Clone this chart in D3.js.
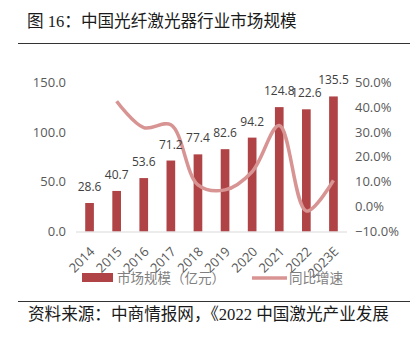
<!DOCTYPE html>
<html><head><meta charset="utf-8">
<script src="https://cdn.jsdelivr.net/npm/d3@7/dist/d3.min.js"></script>
<style>
html,body{margin:0;padding:0;background:#fff;}
svg{display:block;}
</style></head>
<body>
<script>
const years = ["2014","2015","2016","2017","2018","2019","2020","2021","2022","2023E"];
const marketSize = [28.6,40.7,53.6,71.2,77.4,82.6,94.2,124.8,122.6,135.5];
const growthYears = ["2015","2016","2017","2018","2019","2020","2021","2022","2023E"];
const growthRate = [42.3,31.7,32.8,8.7,6.7,14.0,32.5,-1.8,10.5];
const leftTicks = [0,50,100,150];
const rightTicks = [-10,0,10,20,30,40,50];
const titleText = "图 16：中国光纤激光器行业市场规模";
const sourceText = "资料来源：中商情报网，《2022 中国激光产业发展";
const legendBar = "市场规模（亿元）";
const legendLine = "同比增速";

const W = 417, H = 338;
const svg = d3.select("body").append("svg").attr("width", W).attr("height", H);
const numFont = "'Open Sans', 'Noto Sans', sans-serif";
const cjkFont = "'Liberation Serif', 'Noto Sans CJK SC', serif";

// title + rules
svg.append("text").attr("x", 27).attr("y", 27).attr("font-family", cjkFont)
  .attr("font-size", 16.6).attr("fill", "#1a1a1a").text(titleText);
svg.append("line").attr("x1", 18).attr("x2", 410).attr("y1", 43.5).attr("y2", 43.5)
  .attr("stroke", "#333").attr("stroke-width", 1);
svg.append("line").attr("x1", 18).attr("x2", 410).attr("y1", 301.5).attr("y2", 301.5)
  .attr("stroke", "#333").attr("stroke-width", 1);
svg.append("text").attr("x", 28).attr("y", 320).attr("font-family", cjkFont)
  .attr("font-size", 16.6).attr("fill", "#1a1a1a").text(sourceText);

const x = d3.scaleBand().domain(years).range([76, 347]).paddingInner(0.68).paddingOuter(0.34);
const yL = d3.scaleLinear().domain([0, 150]).range([231.5, 82]);
const yR = d3.scaleLinear().domain([-10, 50]).range([231.5, 82]);

// left axis labels
const axL = svg.append("g").attr("transform", "translate(70,0)")
  .call(d3.axisLeft(yL).tickValues(leftTicks).tickFormat(d3.format(".1f")).tickSize(0).tickPadding(4));
axL.select(".domain").remove();
axL.selectAll("text").attr("font-family", numFont).attr("font-size", 13).attr("fill", "#595959");

// right axis labels
const axR = svg.append("g").attr("transform", "translate(351,0)")
  .call(d3.axisRight(yR).tickValues(rightTicks).tickFormat(d => d3.format(".1f")(d) + "%").tickSize(0).tickPadding(4));
axR.select(".domain").remove();
axR.selectAll("text").attr("font-family", numFont).attr("font-size", 13).attr("fill", "#595959");

// bars
svg.append("g").selectAll("rect").data(years).join("rect")
  .attr("x", d => x(d)).attr("width", x.bandwidth())
  .attr("y", (d, i) => yL(marketSize[i]))
  .attr("height", (d, i) => yL(0) - yL(marketSize[i]))
  .attr("fill", "#b04346");

// baseline
svg.append("line").attr("x1", 76).attr("x2", 347).attr("y1", yL(0) + 0.5).attr("y2", yL(0) + 0.5)
  .attr("stroke", "#d9d9d9").attr("stroke-width", 1);

// growth line
const line = d3.line().x((d, i) => x(growthYears[i]) + x.bandwidth() / 2)
  .y(d => yR(d)).curve(d3.curveCatmullRom.alpha(0.5));
svg.append("path").datum(growthRate).attr("d", line)
  .attr("fill", "none").attr("stroke", "#d89393").attr("stroke-width", 3.5)
  .attr("stroke-linejoin", "round").attr("stroke-linecap", "butt");

// data labels
svg.append("g").selectAll("text").data(years).join("text")
  .attr("x", d => x(d) + x.bandwidth() / 2)
  .attr("y", (d, i) => yL(marketSize[i]) - 12)
  .attr("text-anchor", "middle").attr("font-family", numFont).attr("font-size", 12)
  .attr("fill", "#404040").text((d, i) => d3.format(".1f")(marketSize[i]));

// x tick labels
const axB = svg.append("g").attr("transform", `translate(0,${yL(0) + 4})`)
  .call(d3.axisBottom(x).tickSize(0).tickPadding(0));
axB.select(".domain").remove();
axB.selectAll("text").attr("font-family", numFont).attr("font-size", 13).attr("fill", "#595959")
  .attr("text-anchor", "end").attr("dy", "0").attr("y", 0)
  .attr("transform", "translate(6,17) rotate(-45)");

// legend
svg.append("rect").attr("x", 82).attr("y", 273).attr("width", 31).attr("height", 9).attr("fill", "#b04346");
svg.append("text").attr("x", 117).attr("y", 283).attr("font-family", "'Noto Sans CJK SC', sans-serif")
  .attr("font-size", 13.5).attr("fill", "#7f7f7f").text(legendBar);
svg.append("line").attr("x1", 252).attr("x2", 287).attr("y1", 278).attr("y2", 278)
  .attr("stroke", "#d89393").attr("stroke-width", 3.5);
svg.append("text").attr("x", 289).attr("y", 283).attr("font-family", "'Noto Sans CJK SC', sans-serif")
  .attr("font-size", 13.5).attr("fill", "#7f7f7f").text(legendLine);
</script>
</body></html>
